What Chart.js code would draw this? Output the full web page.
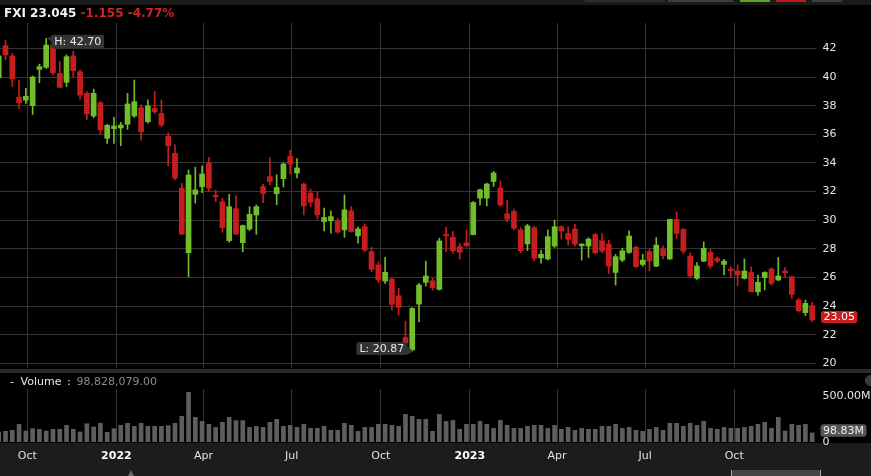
<!DOCTYPE html>
<html>
<head>
<meta charset="utf-8">
<script src="https://cdn.jsdelivr.net/npm/chart.js@4/dist/chart.umd.min.js"></script>
<style>
  html, body { margin: 0; padding: 0; background: #000; width: 871px; height: 476px; overflow: hidden; font-family: "DejaVu Sans", sans-serif; }
  .abs { position: absolute; }
  canvas { position: absolute; left: 0; }
</style>
</head>
<body>
<!-- background bands -->
<div class="abs" style="left:0;top:0;width:871px;height:5px;background:#1b1b1b"></div>
<div class="abs" style="left:585px;top:0;width:80px;height:2px;background:#2c2c2c"></div>
<div class="abs" style="left:668px;top:0;width:65px;height:2px;background:#3d3d3d"></div>
<div class="abs" style="left:740px;top:0;width:30px;height:2px;background:#5aa51e"></div>
<div class="abs" style="left:776px;top:0;width:30px;height:2px;background:#c01a1a"></div>
<div class="abs" style="left:812px;top:0;width:30px;height:2px;background:#3d3d3d"></div>
<div class="abs" style="left:0;top:369px;width:871px;height:4px;background:#2a2a2a"></div>
<div class="abs" style="left:0;top:443px;width:871px;height:33px;background:#1c1c1c"></div>
<div class="abs" style="left:865px;top:375px;width:11px;height:11px;border-radius:50%;background:#3a3a3a"></div>

<canvas id="pc" width="871" height="385" style="top:0"></canvas>
<canvas id="vc" width="871" height="104" style="top:372px"></canvas>

<!-- header text -->
<div id="hdr" class="abs" style="left:4px;top:5px;line-height:16px;font-weight:bold;font-size:12px;white-space:pre"></div>
<!-- volume legend -->
<div class="abs" style="left:10px;top:375px;line-height:14px;font-size:11px;color:#e8e8e8">-</div>
<div class="abs" style="left:20.5px;top:375px;line-height:14px;font-size:11px;color:#e8e8e8">Volume</div>
<div class="abs" style="left:67px;top:375px;line-height:14px;font-size:11px;color:#e8e8e8">:</div>
<div id="volval" class="abs" style="left:76.5px;top:375px;line-height:14px;font-size:11px;color:#8a8a8a"></div>
<!-- bottom navigator bits -->
<div class="abs" style="left:128px;top:470px;width:0;height:0;border-left:3.5px solid transparent;border-right:3.5px solid transparent;border-bottom:6px solid #6a6a6a"></div>
<div class="abs" style="left:731px;top:470px;width:88px;height:6px;background:#444;border-left:1px solid #aaa;border-right:1px solid #aaa"></div>

<script>
// ---------- DATA ----------
const symbol = 'FXI';
const lastText = '23.045';
const changeText = '-1.155';
const pctText = '-4.77%';
const lastVolumeText = '98,828,079.00';

const weekStart0 = '2021-08-30'; // Monday of first weekly candle

const opens = [39.95, 42.19, 41.47, 38.6,
  38.39, 38.0, 40.53, 40.67, 42.23, 40.25, 39.63, 41.47, 40.37, 38.86,
  37.28, 38.21, 35.72, 36.4, 36.44, 36.7, 37.28, 37.86, 36.88, 37.81,
  37.46, 35.88, 34.67, 32.25, 27.74, 31.81, 32.35, 33.98, 31.74, 31.3,
  28.58, 30.81, 28.44, 29.39, 30.37, 32.35, 33.05, 31.85, 32.9, 34.46,
  33.3, 32.53, 31.9, 31.5, 29.91, 29.96, 29.96, 29.33, 30.66, 28.91,
  29.56, 27.81, 26.88, 25.76, 25.9, 24.73, 21.82, 20.95, 24.15, 25.67,
  25.78, 25.18, 29.0, 28.82, 28.16, 28.42, 29.0, 31.55, 31.55, 32.71,
  32.25, 30.45, 30.61, 29.33, 28.35, 29.49, 27.38, 27.3, 28.2, 29.55,
  29.08, 29.39, 28.22, 28.2, 29.01, 28.57, 28.34, 26.36, 27.22, 27.76,
  28.11, 26.92, 27.81, 26.8, 27.99, 27.3, 30.06, 29.36, 27.5, 25.95,
  27.15, 27.76, 27.34, 26.92, 26.6, 26.46, 25.95, 26.36, 25.01, 26.01,
  26.6, 25.83, 26.46, 26.06, 24.43, 23.55, 24.04];

const highs = [41.6, 42.58, 41.65, 39.79,
  39.21, 40.07, 40.9, 42.7, 42.4, 41.07, 41.54, 41.81, 40.49, 38.98,
  39.16, 38.28, 36.7, 37.18, 36.84, 38.86, 39.79, 38.05, 38.4, 38.98,
  38.4, 36.12, 35.26, 32.58, 33.51, 33.7, 33.79, 34.4, 32.12, 31.53,
  31.81, 31.7, 29.67, 30.95, 31.07, 32.51, 34.37, 33.18, 34.0, 34.88,
  34.3, 32.6, 32.18, 32.01, 30.85, 30.66, 30.15, 31.78, 30.96, 29.52,
  29.75, 28.12, 27.11, 27.42, 25.95, 25.25, 22.96, 23.9, 25.6, 27.16,
  25.95, 28.75, 29.52, 29.21, 28.4, 29.33, 31.31, 32.18, 32.6, 33.41,
  32.76, 31.38, 30.78, 29.49, 29.73, 29.56, 27.9, 29.33, 30.01, 29.62,
  29.55, 29.71, 28.36, 28.78, 29.08, 29.08, 28.62, 27.62, 28.04, 29.27,
  28.2, 27.62, 27.97, 28.8, 28.22, 30.08, 30.6, 29.43, 27.73, 27.04,
  28.5, 27.97, 27.46, 27.27, 26.76, 26.88, 27.3, 26.76, 26.18, 26.41,
  26.69, 27.41, 26.71, 26.11, 24.55, 24.43, 24.27];

const lows = [39.9, 41.19, 39.33, 37.81,
  38.16, 37.39, 39.6, 40.6, 40.14, 39.26, 39.33, 40.02, 38.46, 37.04,
  37.16, 36.0, 35.37, 35.37, 35.21, 36.35, 37.18, 35.6, 36.77, 37.46,
  36.53, 33.81, 32.81, 29.0, 26.06, 31.2, 31.93, 31.99, 31.3, 29.16,
  28.46, 29.0, 27.81, 29.28, 29.02, 31.23, 32.47, 31.08, 32.32, 33.23,
  32.95, 30.38, 30.96, 30.08, 29.26, 29.1, 29.1, 28.82, 29.17, 28.4,
  27.81, 26.41, 25.64, 25.6, 23.73, 23.38, 21.4, 20.87, 22.91, 25.41,
  25.13, 25.13, 27.81, 27.7, 27.3, 28.12, 28.98, 31.08, 31.01, 32.36,
  30.96, 29.91, 29.33, 27.74, 27.88, 27.18, 27.0, 27.23, 28.1, 28.69,
  28.27, 28.2, 27.22, 27.41, 27.64, 27.73, 26.29, 25.48, 27.11, 27.69,
  26.71, 26.8, 26.46, 26.76, 27.3, 27.27, 28.69, 27.69, 26.01, 25.87,
  27.11, 26.64, 27.04, 26.18, 26.01, 25.43, 25.9, 25.01, 24.78, 25.13,
  25.48, 25.78, 26.01, 24.55, 23.62, 23.34, 22.92];

const closes = [41.47, 41.54, 39.86, 38.21,
  38.65, 40.0, 40.72, 42.23, 40.3, 39.28, 41.42, 40.44, 38.74, 37.42,
  38.86, 36.3, 36.63, 36.58, 36.65, 38.12, 38.28, 36.18, 37.98, 37.58,
  36.65, 35.21, 32.95, 29.04, 33.16, 32.12, 33.23, 32.25, 31.65, 29.49,
  30.95, 29.04, 29.63, 30.42, 30.95, 31.88, 32.7, 32.29, 33.93, 33.93,
  33.65, 31.01, 31.27, 30.38, 30.19, 30.26, 29.17, 30.73, 29.21, 29.4,
  27.93, 26.58, 25.83, 26.37, 24.13, 23.92, 21.44, 23.85, 25.48, 26.11,
  25.29, 28.56, 28.91, 27.88, 27.77, 28.23, 31.24, 32.13, 32.53, 33.3,
  31.08, 30.08, 29.45, 27.88, 29.61, 27.35, 27.63, 28.86, 29.55, 29.25,
  28.67, 28.34, 28.34, 28.69, 27.73, 27.85, 26.8, 27.46, 27.87, 28.9,
  26.76, 27.22, 27.15, 28.27, 27.53, 30.06, 29.08, 27.85, 26.11, 26.81,
  28.04, 26.8, 27.15, 27.15, 26.48, 26.18, 26.46, 25.01, 25.67, 26.36,
  25.6, 26.11, 26.34, 24.83, 23.69, 24.2, 23.045];

// weekly volume, millions
const volumes = [109, 116, 127, 192,
  119, 145, 138, 119, 138, 138, 181, 138, 109, 199,
  163, 203, 105, 145, 181, 203, 170, 203, 170, 170,
  170, 177, 203, 279, 539, 268, 224, 192, 159, 214,
  268, 232, 232, 159, 170, 159, 214, 246, 170, 181,
  159, 192, 148, 148, 170, 127, 127, 203, 181, 116,
  159, 159, 192, 192, 181, 170, 300, 279, 246, 246,
  116, 300, 224, 235, 138, 192, 192, 224, 192, 148,
  235, 181, 148, 148, 170, 181, 181, 148, 181, 138,
  159, 127, 148, 138, 138, 170, 170, 192, 148, 159,
  127, 116, 138, 159, 127, 203, 203, 170, 203, 181,
  224, 148, 138, 159, 148, 148, 159, 170, 192, 214,
  148, 268, 119, 192, 181, 192, 98.83];

const priceTicks = [20, 22, 24, 26, 28, 30, 32, 34, 36, 38, 40, 42];
const volumeTicks = [0, 500];
const xTickDates = ['2021-10-01', '2022-01-01', '2022-04-01', '2022-07-01', '2022-10-01', '2023-01-01', '2023-04-01', '2023-07-01', '2023-10-01'];
const xTickLabels = ['Oct', '2022', 'Apr', 'Jul', 'Oct', '2023', 'Apr', 'Jul', 'Oct'];

// ---------- HEADER TEXT ----------
document.getElementById('hdr').innerHTML =
  '<span style="color:#f2f2f2">' + symbol + ' ' + lastText + '</span> <span style="color:#d22424">' + changeText + ' ' + pctText + '</span>';
document.getElementById('volval').textContent = lastVolumeText;

// ---------- CHARTS ----------
const DAY = 864e5;
const dayNum = s => Date.parse(s + 'T00:00:00Z') / DAY;
const weekX = opens.map((_, i) => dayNum(weekStart0) + 7 * i + 2.5);

const UP = '#72bd2a', DOWN = '#c81d1d', GRID = '#363636', VOL = '#5e5e5e', LABEL_BG = '#333333';
const candleColors = closes.map((c, i) => c >= opens[i] ? UP : DOWN);

Chart.defaults.font.family = '"DejaVu Sans", sans-serif';
Chart.defaults.font.size = 11;
Chart.defaults.color = '#e2e2e2';

const xMin = dayNum('2021-10-01') - 28.2;
const xMax = dayNum('2023-10-01') + 84.45;
const isYear = i => /^\d{4}$/.test(xTickLabels[i] || '');

function xAxis(showLabels) {
  return {
    type: 'linear', min: xMin, max: xMax, offset: false, bounds: 'ticks',
    afterBuildTicks: s => { s.ticks = xTickDates.map(d => ({ value: dayNum(d) })); },
    grid: { color: GRID, lineWidth: 1, drawTicks: false, offset: false },
    border: { display: false },
    ticks: showLabels ? {
      autoSkip: false, maxRotation: 0, padding: 8,
      callback: (v, i) => xTickLabels[i],
      color: ctx => isYear(ctx.index) ? '#ffffff' : '#e0e0e0',
      font: ctx => ({ family: '"DejaVu Sans", sans-serif', size: 11, weight: isYear(ctx.index) ? 'bold' : 'normal' })
    } : { display: false },
    afterFit: s => { s.height = showLabels ? 34 : 0; }
  };
}

function roundBox(ctx, x, y, w, h, r, fill) {
  ctx.fillStyle = fill;
  ctx.beginPath();
  if (ctx.roundRect) ctx.roundRect(x, y, w, h, r); else ctx.rect(x, y, w, h);
  ctx.fill();
}

const priceLabels = {
  id: 'priceLabels',
  afterDraw(chart) {
    const { ctx, scales: { x, y }, chartArea } = chart;
    ctx.save();
    ctx.font = '11px "DejaVu Sans", sans-serif';
    ctx.textBaseline = 'middle';
    ctx.textAlign = 'left';
    // high marker
    const hi = Math.max(...highs), hiI = highs.indexOf(hi);
    const hx = x.getPixelForValue(weekX[hiI]), hy = y.getPixelForValue(hi);
    let txt = 'H: ' + hi.toFixed(2);
    let w = ctx.measureText(txt).width + 6, bh = 14;
    let bx = hx + 5, by = hy - 3.5;
    ctx.fillStyle = LABEL_BG;
    ctx.beginPath(); ctx.moveTo(hx + 1, hy); ctx.lineTo(bx + 1, by + 1); ctx.lineTo(bx + 1, by + 8); ctx.closePath(); ctx.fill();
    roundBox(ctx, bx, by, w, bh, 2, LABEL_BG);
    ctx.fillStyle = '#e8e8e8';
    ctx.fillText(txt, bx + 3, by + bh / 2 + 0.5);
    // low marker
    const lo = Math.min(...lows), loI = lows.indexOf(lo);
    const lx = x.getPixelForValue(weekX[loI]), ly = y.getPixelForValue(lo);
    txt = 'L: ' + lo.toFixed(2);
    w = ctx.measureText(txt).width + 6; bh = 13;
    bx = lx - 5 - w; by = ly + 4 - bh;
    ctx.fillStyle = LABEL_BG;
    ctx.beginPath(); ctx.moveTo(bx + w - 1, by + 3); ctx.lineTo(bx + w - 1, by + bh); ctx.lineTo(lx + 1, ly + 0.5); ctx.closePath(); ctx.fill();
    roundBox(ctx, bx, by, w, bh, 2, LABEL_BG);
    ctx.fillStyle = '#e8e8e8';
    ctx.fillText(txt, bx + 3, by + bh / 2 + 0.5);
    // last price tag
    const last = closes[closes.length - 1];
    const py = y.getPixelForValue(last);
    txt = (last + 1e-9).toFixed(2);
    w = ctx.measureText(txt).width + 5;
    roundBox(ctx, chartArea.right + 5, py - 9, w, 12, 3, DOWN);
    ctx.fillStyle = '#ffffff';
    ctx.fillText(txt, chartArea.right + 7.5, py - 2.7);
    ctx.restore();
  }
};

const volLabel = {
  id: 'volLabel',
  afterDraw(chart) {
    const { ctx, scales: { y }, chartArea } = chart;
    const v = volumes[volumes.length - 1];
    const vy = y.getPixelForValue(v);
    ctx.save();
    ctx.font = '11px "DejaVu Sans", sans-serif';
    ctx.textBaseline = 'middle'; ctx.textAlign = 'left';
    const txt = v.toFixed(2) + 'M';
    const w = ctx.measureText(txt).width + 5;
    roundBox(ctx, chartArea.right + 4.5, vy - 8.6, w, 12.4, 3, '#555555');
    ctx.fillStyle = '#eeeeee';
    ctx.fillText(txt, chartArea.right + 7, vy - 2.2);
    ctx.restore();
  }
};

new Chart(document.getElementById('pc'), {
  type: 'bar',
  data: {
    datasets: [
      { label: 'range', data: weekX.map((x, i) => ({ x, y: [lows[i], highs[i]] })), backgroundColor: candleColors, barThickness: 1, grouped: false, order: 2 },
      { label: 'body', data: weekX.map((x, i) => ({ x, y: [opens[i], closes[i]] })), backgroundColor: candleColors, barThickness: 5, minBarLength: 1.5, grouped: false, order: 1 }
    ]
  },
  options: {
    responsive: false, animation: false, events: [],
    layout: { padding: { top: 23, bottom: 17, left: 0, right: 0 } },
    plugins: { legend: { display: false }, tooltip: { enabled: false } },
    scales: {
      x: xAxis(false),
      y: {
        position: 'right', min: 19.69, max: 43.77,
        afterBuildTicks: s => { s.ticks = priceTicks.map(v => ({ value: v })); },
        ticks: { padding: 6.5, color: '#e6e6e6', callback: v => String(v) },
        grid: { color: GRID, drawTicks: false },
        border: { display: false },
        afterFit: s => { s.width = 55; }
      }
    }
  },
  plugins: [priceLabels]
});

new Chart(document.getElementById('vc'), {
  type: 'bar',
  data: {
    datasets: [
      { label: 'Volume', data: weekX.map((x, i) => ({ x, y: volumes[i] })), backgroundColor: VOL, barThickness: 4, grouped: false }
    ]
  },
  options: {
    responsive: false, animation: false, events: [],
    layout: { padding: { top: 17, bottom: 0, left: 0, right: 0 } },
    plugins: { legend: { display: false }, tooltip: { enabled: false } },
    scales: {
      x: xAxis(true),
      y: {
        position: 'right', min: 0, max: 576,
        afterBuildTicks: s => { s.ticks = volumeTicks.map(v => ({ value: v })); },
        ticks: { padding: 6.5, color: '#e6e6e6', callback: v => v === 0 ? '0' : v.toFixed(2) + 'M' },
        grid: { display: false, drawTicks: false },
        border: { display: false },
        afterFit: s => { s.width = 55; }
      }
    }
  },
  plugins: [volLabel]
});
</script>
</body>
</html>
